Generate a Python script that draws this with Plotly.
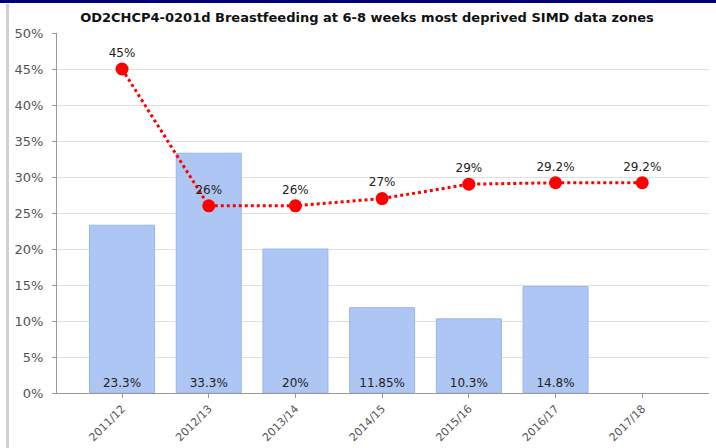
import plotly.graph_objects as go

categories = ["2011/12", "2012/13", "2013/14", "2014/15", "2015/16", "2016/17", "2017/18"]
bar_values = [23.3, 33.3, 20, 11.85, 10.3, 14.8, None]
bar_labels = ["23.3%", "33.3%", "20%", "11.85%", "10.3%", "14.8%", ""]
line_values = [45, 26, 26, 27, 29, 29.2, 29.2]
line_labels = ["45%", "26%", "26%", "27%", "29%", "29.2%", "29.2%"]
y_ticks = [0, 5, 10, 15, 20, 25, 30, 35, 40, 45, 50]
y_tick_text = [f"{v}%" for v in y_ticks]
title = "OD2CHCP4-0201d Breastfeeding at 6-8 weeks most deprived SIMD data zones"

FONT = "DejaVu Sans"

fig = go.Figure()
fig.add_trace(go.Bar(
    x=categories, y=bar_values, text=bar_labels,
    textposition="inside", insidetextanchor="start", textangle=0,
    textfont=dict(family=FONT, size=12, color="#222222"),
    marker=dict(color="#aec6f4", line=dict(color="#9ab6ee", width=1)),
    width=0.75, showlegend=False, hoverinfo="skip",
))
fig.add_trace(go.Scatter(
    x=categories, y=line_values, text=line_labels,
    mode="lines+markers+text", textposition="top center",
    textfont=dict(family=FONT, size=12, color="#222222"),
    line=dict(color="#ff0000", width=3, dash="dot"),
    marker=dict(color="#ff0000", size=13),
    showlegend=False, cliponaxis=False,
))

W, H = 716, 448
L, R, T, B = 57, 7, 33, 55
pw, ph = W - L - R, H - T - B

def px_x(x):
    return (x - L) / pw

def px_y(y):
    return (H - B - y) / ph

fig.update_layout(
    width=W, height=H,
    margin=dict(l=L, r=R, t=T, b=B, autoexpand=False),
    paper_bgcolor="white", plot_bgcolor="white",
    title=dict(text="<b>" + title + "</b>", x=px_x(367), xanchor="center",
               xref="paper", y=1 - 17 / H, yanchor="middle",
               font=dict(family=FONT, size=13, color="#111111")),
    font=dict(family=FONT, size=12, color="#555555"),
    bargap=0.25,
    xaxis=dict(
        type="category", range=[-0.75, 6.77], automargin=False,
        tickangle=-45, tickfont=dict(family=FONT, size=11, color="#555555"),
        showline=True, linecolor="#999999", linewidth=1,
        ticks="outside", ticklen=4, tickcolor="#999999",
        showgrid=False,
    ),
    yaxis=dict(
        range=[0, 50], tickvals=y_ticks, ticktext=y_tick_text, automargin=False,
        tickfont=dict(family=FONT, size=13, color="#555555"),
        showline=True, linecolor="#999999", linewidth=1,
        ticks="outside", ticklen=4, tickcolor="#999999",
        ticklabelstandoff=6,
        showgrid=True, gridcolor="#e0e0e0", gridwidth=1,
        zeroline=False,
    ),
    shapes=[
        dict(type="rect", xref="paper", yref="paper",
             x0=px_x(0), x1=px_x(W), y0=px_y(0), y1=px_y(3),
             fillcolor="#00007f", line=dict(width=0), layer="above"),
        dict(type="rect", xref="paper", yref="paper",
             x0=px_x(6), x1=px_x(9), y0=px_y(4), y1=px_y(H),
             fillcolor="#d0d0d0", line=dict(width=0), layer="above"),
    ],
)

fig.write_html("out.html", config={"displayModeBar": False},
               post_script="document.body.style.margin='0';document.body.style.padding='0';")
